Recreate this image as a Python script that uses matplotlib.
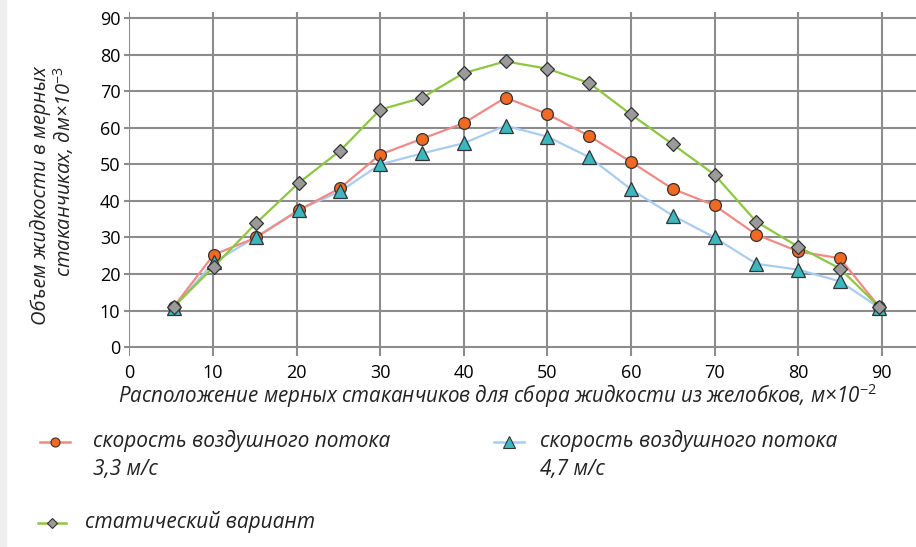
import matplotlib.pyplot as plt
from matplotlib.lines import Line2D
from matplotlib.patches import Rectangle

plt.rcParams['font.family'] = ['Open Sans', 'DejaVu Sans']
plt.rcParams['mathtext.fontset'] = 'custom'
plt.rcParams['mathtext.rm'] = 'Open Sans'
plt.rcParams['mathtext.it'] = 'Open Sans:italic'

x = [5.3, 10.1, 15.2, 20.3, 25.2, 30, 35, 40, 45, 50, 55, 60, 65, 70, 75, 80, 85, 89.7]
v33 = [11, 25.3, 30, 37.5, 43.5, 52.7, 57, 61.3, 68.3, 63.8, 57.8, 50.7,
       43.3, 38.8, 30.8, 26.2, 24.3, 11]
v47 = [10.8, 23.2, 30.2, 37.6, 42.6, 50, 53, 55.8, 60.6, 57.6, 52, 43.2,
       36, 30, 22.8, 21.2, 18, 10.8]
static = [11, 22, 34, 45, 53.7, 65, 68.2, 75, 78.2, 76.2, 72.3, 63.7,
          55.5, 47.2, 34.3, 27.5, 21.5, 11]

xticks = list(range(0, 100, 10))
yticks = list(range(0, 100, 10))

W, H = 916, 547
fig = plt.figure(figsize=(W / 100, H / 100), dpi=100)
fig.add_artist(Rectangle((0, 0), 6 / W, 1, transform=fig.transFigure,
                         color='#eeeeee', zorder=0))

left, right = 129.3, 916
top, bottom = 11.7, 355.5
ax = fig.add_axes([left / W, 1 - bottom / H, (right - left) / W, (bottom - top) / H])
ax.set_xlim(0, 94.1)
ax.set_ylim(-2.3, 91.8)
for s in ax.spines.values():
    s.set_visible(False)
ax.set_xticks(xticks)
ax.set_yticks(yticks)
ax.grid(True, color='#8c8c8c', linewidth=1.5)
ax.set_axisbelow(True)
ax.tick_params(axis='y', length=3.5, width=1.5, color='#8c8c8c', labelsize=13, pad=3)
ax.tick_params(axis='x', length=0, labelsize=13, pad=6)

ax.plot(x, v47, color='#a9cdee', lw=1.6, zorder=2)
ax.plot(x, v33, color='#f08a86', lw=1.6, zorder=3)
ax.plot(x, static, color='#8dc641', lw=1.6, zorder=4)
ax.plot(x, v33, ls='none', marker='o', ms=8.5, mfc='#f26a21', mec='#333333', mew=0.9, zorder=5)
ax.plot(x, v47, ls='none', marker='^', ms=10, mfc='#3bb8bf', mec='#333333', mew=0.9, zorder=6)
ax.plot(x, static, ls='none', marker='D', ms=7, mfc='#9a9a9a', mec='#333333', mew=0.9, zorder=7)

fig.text(497 / W, 1 - 396 / H,
         'Расположение мерных стаканчиков для сбора жидкости из желобков, м×10$^{-2}$',
         ha='center', va='center', fontsize=14.8, style='italic', color='#222222')
fig.text(53 / W, 1 - 66 / H, 'Объем жидкости в мерных\nстаканчиках, дм×10$^{-3}$',
         ha='center', va='top', rotation=90, multialignment='right',
         fontsize=14.5, style='italic', color='#222222', linespacing=1.05)

legend_items = [
    (40, 70, 442, '#f08a86', 'o', 6.5, '#f26a21', 'скорость воздушного потока\n3,3 м/с', 93),
    (494, 524, 442, '#a9cdee', '^', 8, '#3bb8bf', 'скорость воздушного потока\n4,7 м/с', 540),
    (38, 66, 523, '#8dc641', 'D', 5.5, '#9a9a9a', 'статический вариант', 85),
]
for x0, x1, yy, lc, mk, ms, fc, label, tx in legend_items:
    fig.add_artist(Line2D([x0 / W, x1 / W], [1 - yy / H, 1 - yy / H],
                          transform=fig.transFigure, color=lc, lw=1.8))
    fig.add_artist(Line2D([(x0 + x1) / 2 / W], [1 - yy / H], transform=fig.transFigure,
                          marker=mk, ms=ms, mfc=fc, mec='#333333', mew=0.8))
    fig.text(tx / W, 1 - (yy - 12) / H, label, ha='left', va='top', fontsize=15,
             style='italic', color='#222222', linespacing=1.45)

fig.savefig('out.png', dpi=100)
